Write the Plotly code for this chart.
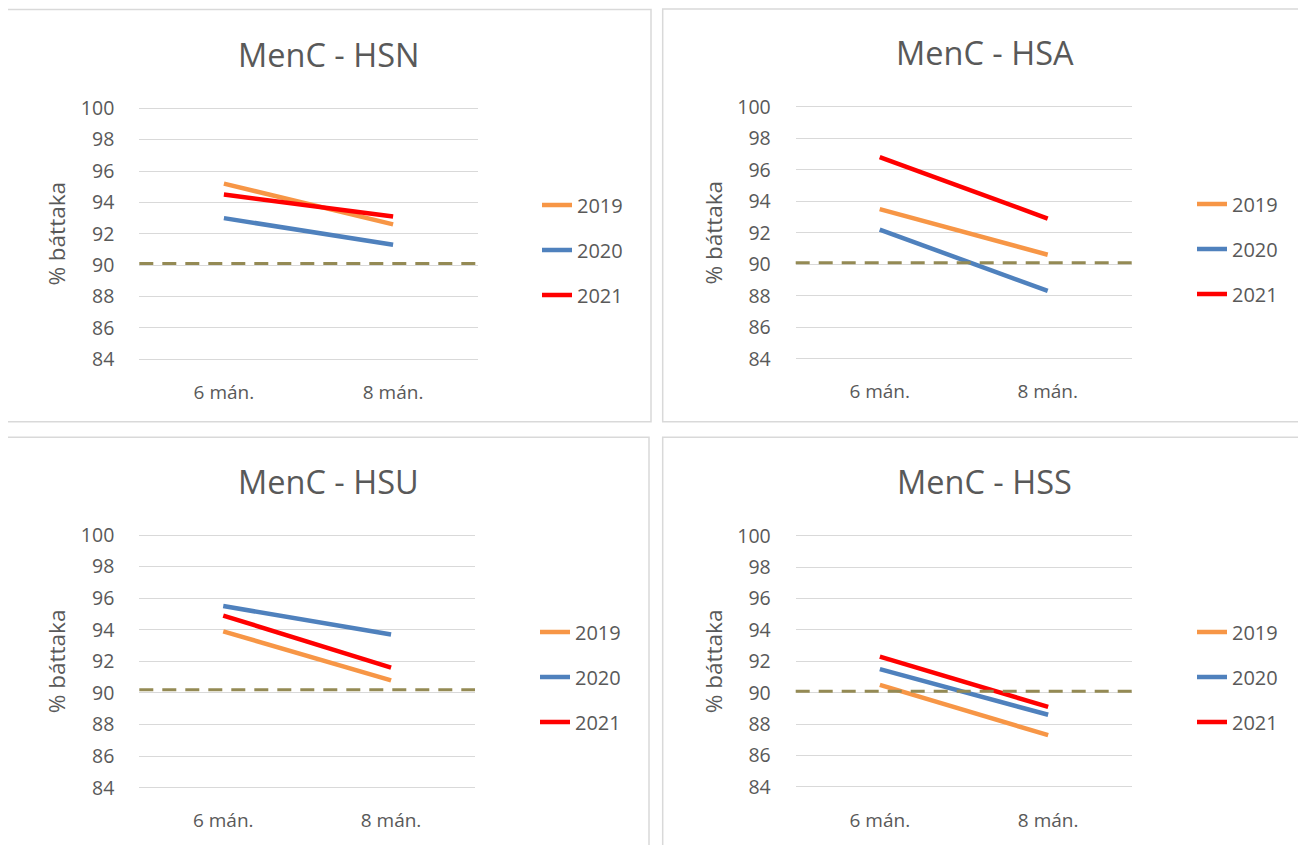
import plotly.graph_objects as go

# The page body adds an 8px margin, so figure pixel coords = reference - OFF
OFF = 8
W, H = 1306 - OFF, 845 - OFF

categories = ["6 mán.", "8 mán."]
years = ["2019", "2020", "2021"]
titles = ["MenC - HSN", "MenC - HSA", "MenC - HSU", "MenC - HSS"]
y_ticks = [84, 86, 88, 90, 92, 94, 96, 98, 100]

hsn_2019 = [95.2, 92.6]
hsn_2020 = [93.0, 91.3]
hsn_2021 = [94.5, 93.1]

hsa_2019 = [93.5, 90.6]
hsa_2020 = [92.2, 88.3]
hsa_2021 = [96.8, 92.9]

hsu_2019 = [93.9, 90.8]
hsu_2020 = [95.5, 93.7]
hsu_2021 = [94.9, 91.6]

hss_2019 = [90.5, 87.3]
hss_2020 = [91.5, 88.6]
hss_2021 = [92.3, 89.1]

targets = [90.1, 90.1, 90.2, 90.1]

panel_series = [
    [hsn_2019, hsn_2020, hsn_2021],
    [hsa_2019, hsa_2020, hsa_2021],
    [hsu_2019, hsu_2020, hsu_2021],
    [hss_2019, hss_2020, hss_2021],
]

colors = ["#F79646", "#4F81BD", "#FF0000"]
TXT = "#595959"
GRID = "#D9D9D9"
FONT = "Open Sans"
Y_MIN, Y_MAX, PAD = 84, 100, 0.1


def px_x(x):
    return (x - OFF) / W


def px_y(y):
    return 1 - (y - OFF) / H


# plot areas in reference pixels: left, right, y of 100, y of 84
plot_boxes = [
    (139.3, 477.7, 108.3, 359.3),
    (795.7, 1131.7, 106.7, 358.7),
    (139.3, 475.0, 535.0, 787.7),
    (795.7, 1132.3, 535.7, 787.0),
]
frames = [
    (6.5, 651.0, 9.5, 421.7),
    (662.7, 1304.5, 9.0, 421.7),
    (6.7, 649.0, 437.3, 860.0),
    (662.7, 1304.5, 437.3, 860.0),
]
title_pos = [(328, 54), (985, 52), (328, 481), (985, 481)]
legend_pos = [(537, 250), (1192, 249), (535, 677), (1192, 677)]

fig = go.Figure()
layout = dict(
    width=W, height=H,
    margin=dict(l=0, r=0, t=0, b=0, autoexpand=False),
    paper_bgcolor="white", plot_bgcolor="white",
    font=dict(family=FONT, color=TXT, size=19),
    shapes=[], annotations=[],
)

for p in range(4):
    suffix = "" if p == 0 else str(p + 1)
    xa, ya = "x" + suffix, "y" + suffix
    leg = "legend" + suffix
    for i, yr in enumerate(years):
        fig.add_trace(go.Scatter(
            x=categories, y=panel_series[p][i], mode="lines", name=yr,
            line=dict(color=colors[i], width=4.5),
            xaxis=xa, yaxis=ya, legend=leg,
            legendgroup=f"p{p}_{yr}", showlegend=True,
        ))
    l, r, t, b = plot_boxes[p]
    ppu = (b - t) / (Y_MAX - Y_MIN)
    layout["xaxis" + suffix] = dict(
        domain=[px_x(l), px_x(r)], anchor=ya,
        type="category", range=[-0.5, 1.5], automargin=False,
        showgrid=False, zeroline=False, showline=False, ticks="",
        ticklabelstandoff=18,
        tickfont=dict(family=FONT, size=19, color=TXT),
    )
    layout["yaxis" + suffix] = dict(
        domain=[px_y(b + PAD * ppu), px_y(t - PAD * ppu)], anchor=xa,
        range=[Y_MIN - PAD, Y_MAX + PAD], tickvals=y_ticks, automargin=False,
        showgrid=True, gridcolor=GRID, gridwidth=1.3,
        zeroline=False, showline=False, ticks="",
        ticklabelstandoff=24,
        tickfont=dict(family=FONT, size=19.5, color=TXT),
        title=dict(text="% báttaka", standoff=8,
                   font=dict(family=FONT, size=22.5, color=TXT)),
    )
    lx, ly = legend_pos[p]
    layout[leg] = dict(
        x=px_x(lx), y=px_y(ly), xanchor="left", yanchor="middle",
        bgcolor="rgba(0,0,0,0)", borderwidth=0,
        font=dict(family=FONT, size=20, color=TXT),
        tracegroupgap=16, orientation="v",
    )
    layout["shapes"].append(dict(
        type="line", xref=xa + " domain", yref=ya,
        x0=0, x1=1, y0=targets[p], y1=targets[p],
        line=dict(color="#948A54", width=3, dash="14px,9px"), layer="above",
    ))
    fl, fr, ft, fb = frames[p]
    layout["shapes"].append(dict(
        type="rect", xref="paper", yref="paper",
        x0=px_x(fl), x1=px_x(fr), y0=px_y(fb), y1=px_y(ft),
        line=dict(color=GRID, width=1.5), fillcolor="rgba(0,0,0,0)", layer="below",
    ))
    tx, ty = title_pos[p]
    layout["annotations"].append(dict(
        text=titles[p], xref="paper", yref="paper",
        x=px_x(tx), y=px_y(ty), xanchor="center", yanchor="middle",
        showarrow=False, font=dict(family=FONT, size=32.5, color=TXT),
    ))

fig.update_layout(**layout)
fig.write_html("out.html")
